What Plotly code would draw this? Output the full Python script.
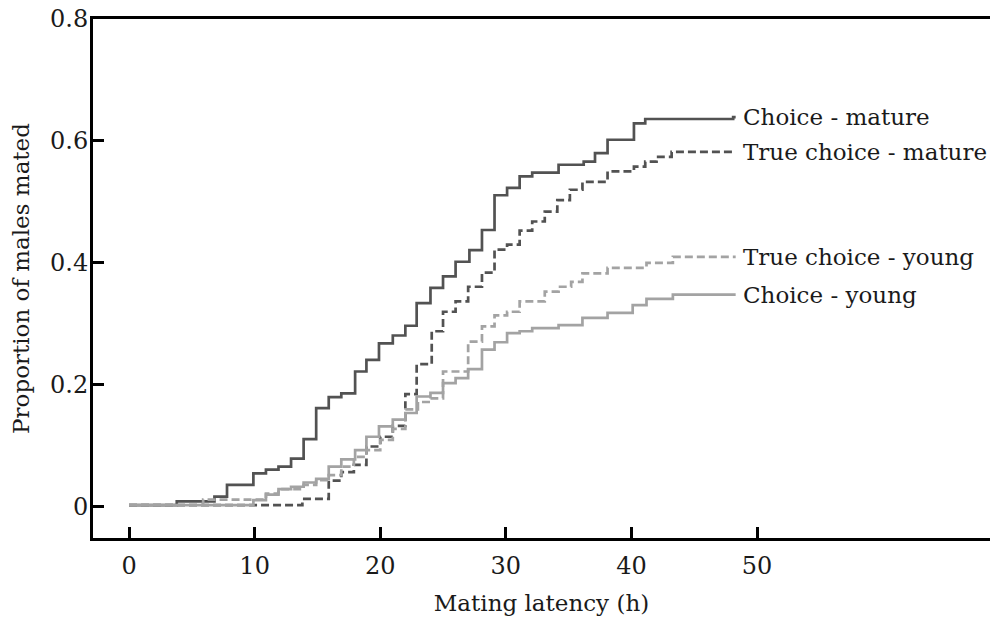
import plotly.graph_objects as go

# Choice - mature (dark solid)
cm_x = [0, 3.8, 6.8, 7.8, 9.9, 10.9, 11.9, 12.9, 13.9, 14.9, 15.9, 16.9, 18.0, 18.9, 19.9, 21.0,
        22.0, 22.9, 24.0, 25.0, 26.0, 27.1, 28.1, 29.1, 30.1, 31.1, 32.1, 34.2, 36.2, 37.1, 38.1,
        40.2, 41.1, 48.1, 48.3]
cm_y = [0.003, 0.009, 0.017, 0.036, 0.055, 0.061, 0.066, 0.079, 0.111, 0.162, 0.180, 0.186, 0.222,
        0.241, 0.268, 0.281, 0.297, 0.334, 0.359, 0.378, 0.402, 0.421, 0.454, 0.511, 0.523, 0.542,
        0.548, 0.561, 0.566, 0.580, 0.602, 0.629, 0.636, 0.639, 0.639]

# True choice - mature (dark dashed)
tm_x = [0, 13.8, 15.9, 16.9, 17.9, 18.9, 20.0, 21.0, 22.0, 22.9, 24.1, 25.0, 26.0, 27.0, 28.1,
        29.1, 30.1, 31.1, 32.1, 33.1, 34.1, 35.1, 36.1, 38.1, 40.2, 41.1, 42.0, 43.2, 48.3]
tm_y = [0.003, 0.013, 0.043, 0.057, 0.069, 0.099, 0.115, 0.133, 0.185, 0.234, 0.288, 0.320, 0.337,
        0.361, 0.384, 0.422, 0.430, 0.453, 0.468, 0.484, 0.503, 0.520, 0.533, 0.550, 0.558, 0.566,
        0.574, 0.582, 0.582]

# True choice - young (light dashed)
ty_x = [0, 5.9, 10.9, 11.9, 13.9, 14.9, 15.9, 16.9, 17.9, 18.9, 20.0, 21.0, 22.0, 23.0, 24.0,
        25.0, 27.0, 28.1, 29.1, 30.1, 31.1, 33.1, 34.2, 35.2, 36.1, 38.1, 41.2, 43.3, 48.3]
ty_y = [0.003, 0.012, 0.022, 0.029, 0.036, 0.044, 0.052, 0.066, 0.082, 0.093, 0.110, 0.128, 0.160,
        0.172, 0.178, 0.222, 0.271, 0.296, 0.314, 0.320, 0.337, 0.353, 0.361, 0.369, 0.383, 0.392,
        0.400, 0.410, 0.410]

# Choice - young (light solid)
cy_x = [0, 9.9, 10.9, 11.9, 12.9, 13.9, 14.9, 15.9, 16.9, 18.0, 18.9, 19.9, 21.0, 22.0, 22.9,
        24.0, 25.0, 26.0, 27.0, 28.1, 29.1, 30.1, 31.1, 32.1, 34.2, 36.1, 38.1, 40.1, 41.2, 43.3, 48.3]
cy_y = [0.003, 0.011, 0.020, 0.029, 0.033, 0.040, 0.046, 0.066, 0.078, 0.093, 0.115, 0.132, 0.143,
        0.154, 0.181, 0.187, 0.203, 0.211, 0.226, 0.258, 0.270, 0.285, 0.288, 0.293, 0.298, 0.310,
        0.318, 0.331, 0.341, 0.348, 0.348]

x_ticks = [0, 10, 20, 30, 40, 50]
y_ticks = [0, 0.2, 0.4, 0.6, 0.8]
y_tick_text = ["0", "0.2", "0.4", "0.6", "0.8"]

DARK = "#525252"
LIGHT = "#a3a3a3"
FONT = "DejaVu Serif"
TXT = "#1a1a1a"

series = [
    ("Choice - mature", cm_x, cm_y, DARK, "solid"),
    ("True choice - mature", tm_x, tm_y, DARK, "8px,4px"),
    ("True choice - young", ty_x, ty_y, LIGHT, "8px,4px"),
    ("Choice - young", cy_x, cy_y, LIGHT, "solid"),
]

fig = go.Figure()
for name, xs, ys, col, dash in series:
    fig.add_trace(go.Scatter(x=xs, y=ys, mode="lines", name=name, line_shape="hv",
                             line=dict(color=col, width=2.7, dash=dash), showlegend=False))
    fig.add_annotation(x=xs[-1], y=ys[-1], text=name, showarrow=False, xanchor="left",
                       yanchor="middle", xshift=5, font=dict(family=FONT, size=23, color=TXT))

fig.update_layout(
    width=991, height=619,
    margin=dict(l=93, r=1, t=19, b=81),
    paper_bgcolor="white", plot_bgcolor="white",
    font=dict(family=FONT, size=22, color=TXT),
)
fig.update_xaxes(range=[-2.87, 68.55], tickvals=x_ticks, ticks="inside", ticklen=11, tickwidth=3,
                 tickcolor="black", showline=True, linecolor="black", linewidth=3, mirror=True,
                 showgrid=False, zeroline=False, ticklabelstandoff=4,
                 tickfont=dict(family=FONT, size=24, color=TXT),
                 title=dict(text="Mating latency (h)", standoff=17,
                            font=dict(family=FONT, size=23, color=TXT)))
fig.update_yaxes(range=[-0.051, 0.8], tickvals=y_ticks, ticktext=y_tick_text, ticks="inside",
                 ticklen=11, tickwidth=3, tickcolor="black", showline=True, linecolor="black",
                 linewidth=3, showgrid=False, zeroline=False, ticklabelstandoff=-3,
                 tickfont=dict(family=FONT, size=24, color=TXT),
                 title=dict(text="Proportion of males mated", standoff=14,
                            font=dict(family=FONT, size=23, color=TXT)))

fig.write_html("out.html")
